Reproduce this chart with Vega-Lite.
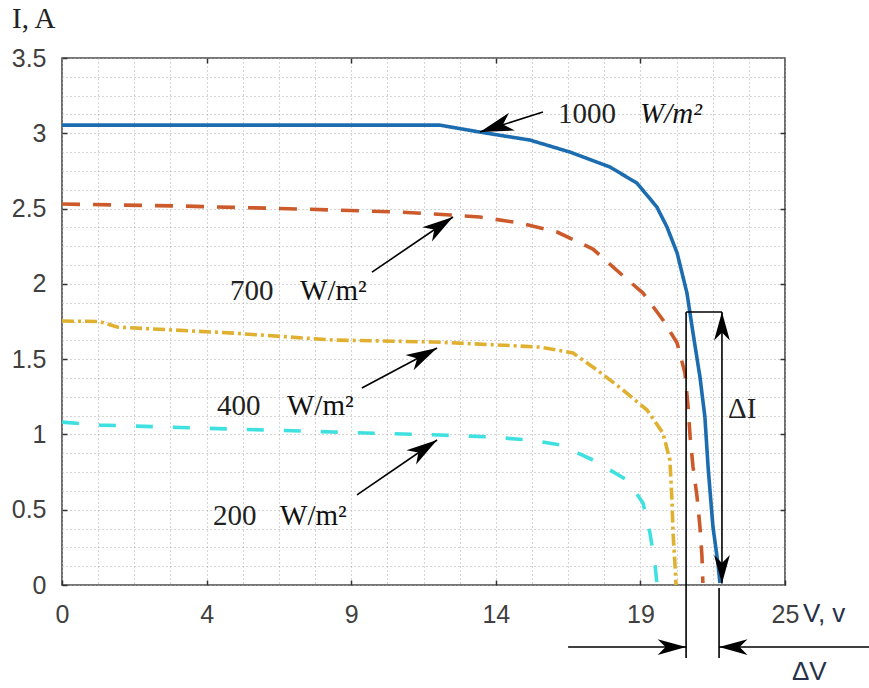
{
  "$schema": "https://vega.github.io/schema/vega-lite/v6.json",
  "width": 723,
  "height": 527,
  "autosize": {"type": "none"},
  "padding": {"left": 62, "top": 58, "right": 84, "bottom": 103},
  "background": "white",
  "config": {"view": {"stroke": "#4a4a4a", "strokeWidth": 1.6}},
  "resolve": {"axis": {"x": "independent", "y": "independent"}},
  "layer": [
    {
      "data": {"values": [
        {"s": "1000", "v": 0, "i": 3.054}, {"s": "1000", "v": 13.07, "i": 3.054}, {"s": "1000", "v": 14.45, "i": 3.008}, {"s": "1000", "v": 16.18, "i": 2.955}, {"s": "1000", "v": 17.57, "i": 2.875}, {"s": "1000", "v": 18.95, "i": 2.776}, {"s": "1000", "v": 19.88, "i": 2.669}, {"s": "1000", "v": 20.57, "i": 2.51}, {"s": "1000", "v": 20.92, "i": 2.377}, {"s": "1000", "v": 21.27, "i": 2.205}, {"s": "1000", "v": 21.61, "i": 1.939}, {"s": "1000", "v": 21.82, "i": 1.673}, {"s": "1000", "v": 22.06, "i": 1.381}, {"s": "1000", "v": 22.23, "i": 1.116}, {"s": "1000", "v": 22.34, "i": 0.784}, {"s": "1000", "v": 22.51, "i": 0.385}, {"s": "1000", "v": 22.68, "i": 0.146}, {"s": "1000", "v": 22.75, "i": 0.013},
        {"s": "700", "v": 0, "i": 2.53}, {"s": "700", "v": 4.08, "i": 2.517}, {"s": "700", "v": 8.23, "i": 2.497}, {"s": "700", "v": 11.69, "i": 2.477}, {"s": "700", "v": 13.42, "i": 2.457}, {"s": "700", "v": 14.45, "i": 2.444}, {"s": "700", "v": 15.84, "i": 2.404}, {"s": "700", "v": 17.12, "i": 2.344}, {"s": "700", "v": 18.36, "i": 2.231}, {"s": "700", "v": 19.29, "i": 2.072}, {"s": "700", "v": 20.09, "i": 1.939}, {"s": "700", "v": 20.78, "i": 1.76}, {"s": "700", "v": 21.27, "i": 1.607}, {"s": "700", "v": 21.54, "i": 1.408}, {"s": "700", "v": 21.65, "i": 1.182}, {"s": "700", "v": 21.72, "i": 0.983}, {"s": "700", "v": 21.82, "i": 0.784}, {"s": "700", "v": 21.96, "i": 0.584}, {"s": "700", "v": 22.06, "i": 0.385}, {"s": "700", "v": 22.13, "i": 0.186}, {"s": "700", "v": 22.16, "i": 0.013},
        {"s": "400", "v": 0, "i": 1.753}, {"s": "400", "v": 1.3, "i": 1.75}, {"s": "400", "v": 1.9, "i": 1.713}, {"s": "400", "v": 5.91, "i": 1.673}, {"s": "400", "v": 9.37, "i": 1.627}, {"s": "400", "v": 12.83, "i": 1.614}, {"s": "400", "v": 14.45, "i": 1.6}, {"s": "400", "v": 16.53, "i": 1.58}, {"s": "400", "v": 17.67, "i": 1.541}, {"s": "400", "v": 18.5, "i": 1.428}, {"s": "400", "v": 19.4, "i": 1.295}, {"s": "400", "v": 20.23, "i": 1.162}, {"s": "400", "v": 20.78, "i": 1.009}, {"s": "400", "v": 21.02, "i": 0.83}, {"s": "400", "v": 21.09, "i": 0.564}, {"s": "400", "v": 21.13, "i": 0.345}, {"s": "400", "v": 21.2, "i": 0.12}, {"s": "400", "v": 21.23, "i": 0},
        {"s": "200", "v": 0, "i": 1.082}, {"s": "200", "v": 1.31, "i": 1.062}, {"s": "200", "v": 5.91, "i": 1.036}, {"s": "200", "v": 9.37, "i": 1.016}, {"s": "200", "v": 13.07, "i": 0.996}, {"s": "200", "v": 14.8, "i": 0.983}, {"s": "200", "v": 16.18, "i": 0.963}, {"s": "200", "v": 17.22, "i": 0.93}, {"s": "200", "v": 18.36, "i": 0.83}, {"s": "200", "v": 19.54, "i": 0.697}, {"s": "200", "v": 20.09, "i": 0.545}, {"s": "200", "v": 20.33, "i": 0.345}, {"s": "200", "v": 20.5, "i": 0.146}, {"s": "200", "v": 20.57, "i": 0.013}
      ]},
      "mark": {"type": "line", "strokeWidth": 3.6, "clip": false, "strokeCap": "butt"},
      "encoding": {
        "x": {"field": "v", "type": "quantitative", "scale": {"domain": [0, 25], "nice": false, "zero": false},
          "axis": {"orient": "bottom", "title": null, "values": [0, 1.25, 2.5, 3.75, 5, 6.25, 7.5, 8.75, 10, 11.25, 12.5, 13.75, 15, 16.25, 17.5, 18.75, 20, 21.25, 22.5, 23.75, 25],
            "labelExpr": "datum.value == 0 ? '0' : datum.value == 5 ? '4' : datum.value == 10 ? '9' : datum.value == 15 ? '14' : datum.value == 20 ? '19' : datum.value == 25 ? '25' : ''",
            "labelOverlap": false, "labelFlush": false, "labelBound": false,
            "labelFont": "Liberation Sans", "labelFontSize": 25, "labelColor": "#404040", "labelPadding": 22,
            "tickSize": -5, "tickColor": "#333333", "tickWidth": 1.5,
            "tickOpacity": {"condition": {"test": "datum.value % 5 === 0", "value": 1}, "value": 0},
            "domain": false, "grid": true, "gridColor": "#aaaaaa", "gridDash": [1, 3], "gridWidth": 1}},
        "y": {"field": "i", "type": "quantitative", "scale": {"domain": [0, 3.5], "nice": false, "zero": false},
          "axis": {"orient": "left", "title": null, "values": [0, 0.125, 0.25, 0.375, 0.5, 0.625, 0.75, 0.875, 1, 1.125, 1.25, 1.375, 1.5, 1.625, 1.75, 1.875, 2, 2.125, 2.25, 2.375, 2.5, 2.625, 2.75, 2.875, 3, 3.125, 3.25, 3.375, 3.5],
            "labelExpr": "datum.value % 0.5 === 0 ? '' + datum.value : ''",
            "labelOverlap": false, "labelFlush": false, "labelBound": false,
            "labelFont": "Liberation Sans", "labelFontSize": 25, "labelColor": "#404040", "labelPadding": 21,
            "tickSize": -5, "tickColor": "#333333", "tickWidth": 1.5,
            "tickOpacity": {"condition": {"test": "datum.value % 0.5 === 0", "value": 1}, "value": 0},
            "domain": false, "grid": true, "gridColor": "#aaaaaa", "gridDash": [1, 3], "gridWidth": 1}},
        "color": {"field": "s", "type": "nominal", "scale": {"domain": ["1000", "700", "400", "200"], "range": ["#1c6cb0", "#cc5a2a", "#e0b030", "#3fe0e0"]}, "legend": null},
        "strokeDash": {"field": "s", "type": "nominal", "scale": {"domain": ["1000", "700", "400", "200"], "range": [[1, 0], [18, 13], [12, 4, 3, 4], [17, 20]]}, "legend": null}
      }
    },
    {
      "data": {"values": [
        {"v": 16.63, "i": 3.141, "v2": 14.45, "i2": 3.008},
        {"v": 10.72, "i": 2.078, "v2": 13.52, "i2": 2.444},
        {"v": 10.37, "i": 1.308, "v2": 12.97, "i2": 1.574},
        {"v": 10.2, "i": 0.598, "v2": 12.97, "i2": 0.963},
        {"v": 22.82, "i": 1.813, "v2": 22.82, "i2": 0.01},
        {"v": 21.58, "i": 1.813, "v2": 22.82, "i2": 1.813},
        {"v": 21.58, "i": 1.813, "v2": 21.58, "i2": -0.485},
        {"v": 22.72, "i": -0.02, "v2": 22.72, "i2": -0.485},
        {"v": 17.5, "i": -0.412, "v2": 21.58, "i2": -0.412},
        {"v": 22.72, "i": -0.412, "v2": 27.95, "i2": -0.412}
      ]},
      "mark": {"type": "rule", "color": "black", "strokeWidth": 1.6, "clip": false},
      "encoding": {
        "x": {"field": "v", "type": "quantitative", "scale": {"domain": [0, 25], "nice": false, "zero": false},
          "axis": {"orient": "top", "title": null, "values": [5, 10, 15, 20], "labels": false, "domain": false, "grid": false, "tickSize": -5, "tickColor": "#333333", "tickWidth": 1.5}},
        "y": {"field": "i", "type": "quantitative", "scale": {"domain": [0, 3.5], "nice": false, "zero": false},
          "axis": {"orient": "right", "title": null, "values": [0.5, 1, 1.5, 2, 2.5, 3], "labels": false, "domain": false, "grid": false, "tickSize": -5, "tickColor": "#333333", "tickWidth": 1.5}},
        "x2": {"field": "v2"},
        "y2": {"field": "i2"}
      }
    },
    {
      "data": {"values": [{"v": 14.45, "i": 3.008}]},
      "mark": {"type": "point", "shape": "M0,0L0.5,1.8L0,1.3L-0.5,1.8Z", "size": 1400, "angle": 252, "filled": true, "color": "black", "opacity": 1, "clip": false},
      "encoding": {"x": {"field": "v", "type": "quantitative", "axis": null}, "y": {"field": "i", "type": "quantitative", "axis": null}}
    },
    {
      "data": {"values": [{"v": 13.52, "i": 2.444}, {"v": 12.97, "i": 0.963}]},
      "mark": {"type": "point", "shape": "M0,0L0.5,1.8L0,1.3L-0.5,1.8Z", "size": 1200, "angle": 56, "filled": true, "color": "black", "opacity": 1, "clip": false},
      "encoding": {"x": {"field": "v", "type": "quantitative", "axis": null}, "y": {"field": "i", "type": "quantitative", "axis": null}}
    },
    {
      "data": {"values": [{"v": 12.97, "i": 1.574}]},
      "mark": {"type": "point", "shape": "M0,0L0.5,1.8L0,1.3L-0.5,1.8Z", "size": 1200, "angle": 62, "filled": true, "color": "black", "opacity": 1, "clip": false},
      "encoding": {"x": {"field": "v", "type": "quantitative", "axis": null}, "y": {"field": "i", "type": "quantitative", "axis": null}}
    },
    {
      "data": {"values": [{"v": 22.82, "i": 1.813}]},
      "mark": {"type": "point", "shape": "M0,0L0.5,1.8L0,1.3L-0.5,1.8Z", "size": 1000, "angle": 0, "filled": true, "color": "black", "opacity": 1, "clip": false},
      "encoding": {"x": {"field": "v", "type": "quantitative", "axis": null}, "y": {"field": "i", "type": "quantitative", "axis": null}}
    },
    {
      "data": {"values": [{"v": 22.82, "i": 0.01}]},
      "mark": {"type": "point", "shape": "M0,0L0.5,1.8L0,1.3L-0.5,1.8Z", "size": 1000, "angle": 180, "filled": true, "color": "black", "opacity": 1, "clip": false},
      "encoding": {"x": {"field": "v", "type": "quantitative", "axis": null}, "y": {"field": "i", "type": "quantitative", "axis": null}}
    },
    {
      "data": {"values": [{"v": 21.58, "i": -0.412}]},
      "mark": {"type": "point", "shape": "M0,0L0.5,1.8L0,1.3L-0.5,1.8Z", "size": 1000, "angle": 90, "filled": true, "color": "black", "opacity": 1, "clip": false},
      "encoding": {"x": {"field": "v", "type": "quantitative", "axis": null}, "y": {"field": "i", "type": "quantitative", "axis": null}}
    },
    {
      "data": {"values": [{"v": 22.72, "i": -0.412}]},
      "mark": {"type": "point", "shape": "M0,0L0.5,1.8L0,1.3L-0.5,1.8Z", "size": 1000, "angle": 270, "filled": true, "color": "black", "opacity": 1, "clip": false},
      "encoding": {"x": {"field": "v", "type": "quantitative", "axis": null}, "y": {"field": "i", "type": "quantitative", "axis": null}}
    },
    {
      "data": {"values": [
        {"t": "1000", "v": 17.15, "i": 3.068},
        {"t": "700", "v": 5.81, "i": 1.892},
        {"t": "400", "v": 5.36, "i": 1.129},
        {"t": "200", "v": 5.22, "i": 0.398},
        {"t": "ΔI", "v": 23.03, "i": 1.109},
        {"t": "I, A", "v": -1.73, "i": 3.699}
      ]},
      "mark": {"type": "text", "font": "Liberation Serif", "fontSize": 29, "color": "#222222", "align": "left", "baseline": "alphabetic", "clip": false},
      "encoding": {"x": {"field": "v", "type": "quantitative", "axis": null}, "y": {"field": "i", "type": "quantitative", "axis": null}, "text": {"field": "t"}}
    },
    {
      "data": {"values": [
        {"t": "W/m²", "v": 8.23, "i": 1.892},
        {"t": "W/m²", "v": 7.78, "i": 1.129},
        {"t": "W/m²", "v": 7.54, "i": 0.398}
      ]},
      "mark": {"type": "text", "font": "Liberation Serif", "fontSize": 29, "color": "#111111", "align": "left", "baseline": "alphabetic", "clip": false},
      "encoding": {"x": {"field": "v", "type": "quantitative", "axis": null}, "y": {"field": "i", "type": "quantitative", "axis": null}, "text": {"field": "t"}}
    },
    {
      "data": {"values": [{"t": "W/m²", "v": 19.99, "i": 3.068}]},
      "mark": {"type": "text", "font": "Liberation Serif", "fontSize": 29, "fontStyle": "italic", "color": "#111111", "align": "left", "baseline": "alphabetic", "clip": false},
      "encoding": {"x": {"field": "v", "type": "quantitative", "axis": null}, "y": {"field": "i", "type": "quantitative", "axis": null}, "text": {"field": "t"}}
    },
    {
      "data": {"values": [
        {"t": "V, v", "v": 25.62, "i": -0.246},
        {"t": "ΔV", "v": 25.24, "i": -0.631}
      ]},
      "mark": {"type": "text", "font": "Liberation Sans", "fontSize": 26, "color": "#26304a", "align": "left", "baseline": "alphabetic", "clip": false},
      "encoding": {"x": {"field": "v", "type": "quantitative", "axis": null}, "y": {"field": "i", "type": "quantitative", "axis": null}, "text": {"field": "t"}}
    }
  ]
}
